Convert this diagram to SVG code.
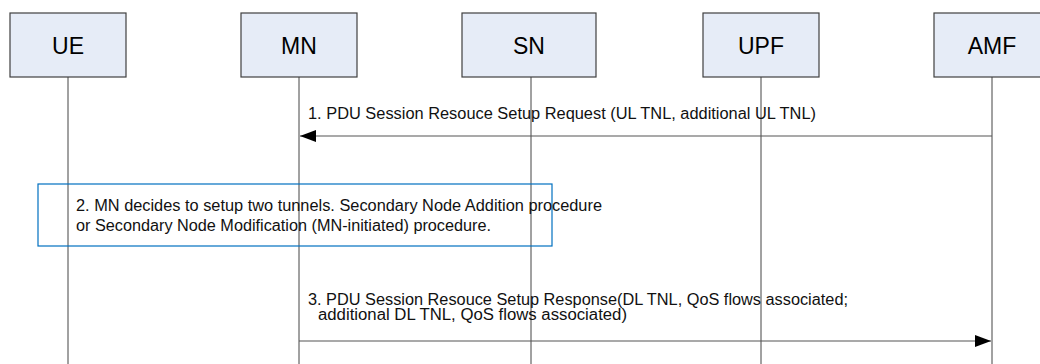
<svg xmlns="http://www.w3.org/2000/svg" width="1040" height="364" viewBox="0 0 1040 364">
<defs>
<style>
.box{fill:#E6ECF7;stroke:#404040;stroke-width:1.2}
.lbl{font-family:"Liberation Sans",Arial,sans-serif;font-size:23px;fill:#000;text-anchor:middle}
.life{stroke:#444;stroke-width:1;fill:none}
.msg{stroke:#555;stroke-width:1.2;fill:none}
.txt{font-family:"Liberation Sans",Arial,sans-serif;font-size:16px;fill:#111}
.note{fill:none;stroke:#0070C0;stroke-width:1.2}
</style>
<marker id="ah" markerWidth="16" markerHeight="12" refX="16" refY="6" orient="auto" markerUnits="userSpaceOnUse">
<path d="M0,0 L16,6 L0,12 Z" fill="#000"/>
</marker>
</defs>
<rect width="1040" height="364" fill="#fff"/>
<g id="lifelines">
<line class="life" x1="68" y1="77" x2="68" y2="364"/>
<line class="life" x1="299" y1="77" x2="299" y2="364"/>
<line class="life" x1="531" y1="77" x2="531" y2="364"/>
<line class="life" x1="761" y1="77" x2="761" y2="364"/>
<line class="life" x1="992" y1="77" x2="992" y2="364"/>
</g>
<g id="UE"><rect class="box" x="10" y="13" width="116" height="64"/><text class="lbl" x="68" y="54">UE</text></g>
<g id="MN"><rect class="box" x="241" y="13" width="116" height="64"/><text class="lbl" x="299" y="54">MN</text></g>
<g id="SN"><rect class="box" x="462" y="13" width="134" height="64"/><text class="lbl" x="529" y="54">SN</text></g>
<g id="UPF"><rect class="box" x="703" y="13" width="116" height="64"/><text class="lbl" x="761" y="54">UPF</text></g>
<g id="AMF"><rect class="box" x="934" y="13" width="116" height="64"/><text class="lbl" x="992" y="54">AMF</text></g>
<g id="step2">
<rect class="note" x="38" y="184" width="514" height="62"/>
<text class="txt" x="76" y="211" textLength="526" lengthAdjust="spacingAndGlyphs">2. MN decides to setup two tunnels. Secondary Node Addition procedure</text>
<text class="txt" x="76" y="231" textLength="415" lengthAdjust="spacingAndGlyphs">or Secondary Node Modification (MN-initiated) procedure.</text>
</g>
<g id="connectors">
<line class="msg" x1="992" y1="136" x2="300" y2="136" marker-end="url(#ah)"/>
<text class="txt" x="308" y="119" textLength="508" lengthAdjust="spacingAndGlyphs">1. PDU Session Resouce Setup Request (UL TNL, additional UL TNL)</text>
<line class="msg" x1="299" y1="341" x2="991" y2="341" marker-end="url(#ah)"/>
<text class="txt" x="308" y="305" textLength="540" lengthAdjust="spacingAndGlyphs">3. PDU Session Resouce Setup Response(DL TNL, QoS flows associated;</text>
<text class="txt" x="318" y="320" textLength="309" lengthAdjust="spacingAndGlyphs">additional DL TNL, QoS flows associated)</text>
</g>
</svg>
